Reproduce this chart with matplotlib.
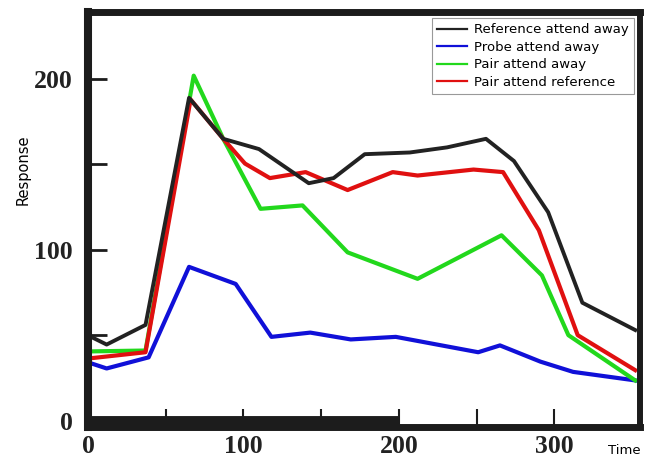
import matplotlib
matplotlib.use("Agg")
import matplotlib.pyplot as plt
from matplotlib.ticker import MultipleLocator, FixedLocator

# response curves, read in (time, response) pairs
ref_away_t = [2, 12, 37, 65, 87, 110, 142, 158, 178, 207, 231, 256, 274, 296, 318, 352]
ref_away_y = [49, 44.5, 56, 189, 165, 159, 139, 142, 156, 157, 160, 165, 152, 122, 69, 53]

probe_away_t = [2, 12, 39, 65, 95, 118, 143, 169, 198, 251, 265, 291, 312, 352]
probe_away_y = [33.5, 30.5, 37, 90, 80, 49, 51.5, 47.5, 49, 40, 44, 34.5, 28.5, 23.5]

pair_away_t = [2, 37, 68, 87, 111, 138, 167, 212, 266, 292, 309, 352]
pair_away_y = [40.5, 41, 202, 165, 124, 126, 98.5, 83, 108.5, 85, 50, 23.5]

pair_ref_t = [2, 37, 66, 87, 101, 117, 140, 167, 196, 212, 248, 267, 290, 315, 352]
pair_ref_y = [36.5, 40, 188, 165, 150.5, 142, 145.5, 135, 145.5, 143.5, 147, 145.5, 111.5, 50, 29.5]

x_minor = [50, 150, 250]
ink = "#1c1c1c"


def main():
    fig = plt.figure(figsize=(6.47, 4.59), dpi=100)
    ax = fig.add_axes([0.136, 0.0708, 0.853, 0.902])

    lb, = ax.plot(probe_away_t, probe_away_y, color="#1010d8", lw=3, zorder=2)
    lg, = ax.plot(pair_away_t, pair_away_y, color="#22d81c", lw=3, zorder=3)
    lr, = ax.plot(pair_ref_t, pair_ref_y, color="#e01010", lw=3, zorder=4)
    lk, = ax.plot(ref_away_t, ref_away_y, color="#222222", lw=2.8, zorder=5)

    ax.set_xlim(0, 355)
    ax.set_ylim(-3.5, 239)

    # heavy frame
    for side, w in (("left", 5.8), ("top", 5.0), ("right", 4.3), ("bottom", 5.0)):
        ax.spines[side].set_linewidth(w)
        ax.spines[side].set_color(ink)
        ax.spines[side].set_zorder(10)
    # thick band along the first part of the time axis
    bar_end = 200
    ax.plot([0, bar_end], [0.0085, 0.0085], transform=ax.get_xaxis_transform(),
            color=ink, lw=10, solid_capstyle="butt", clip_on=False, zorder=9)

    ax.xaxis.set_major_locator(MultipleLocator(100))
    ax.xaxis.set_minor_locator(FixedLocator(x_minor))
    ax.yaxis.set_major_locator(MultipleLocator(100))
    ax.yaxis.set_minor_locator(MultipleLocator(50))
    ax.tick_params(axis="x", which="both", direction="in", length=13, width=1.5,
                   color=ink, pad=6, top=False)
    ax.tick_params(axis="y", which="both", direction="in", length=14, width=2,
                   color=ink, pad=11, right=False)
    for lab in ax.get_xticklabels() + ax.get_yticklabels():
        lab.set_fontfamily("Liberation Serif")
        lab.set_fontweight("bold")
        lab.set_fontsize(18.5)
        lab.set_color("#222222")

    ax.set_ylabel("Response", fontsize=10.5, family="DejaVu Sans")
    ax.yaxis.set_label_coords(-0.118, 0.62)
    ax.yaxis.label.set_va("center")
    ax.set_xlabel("Time", fontsize=9.5, family="DejaVu Sans")
    ax.xaxis.set_label_coords(0.971, -0.059)
    ax.xaxis.label.set_va("center")

    leg = ax.legend([lk, lb, lg, lr],
                    ["Reference attend away", "Probe attend away",
                     "Pair attend away", "Pair attend reference"],
                    loc="upper right", bbox_to_anchor=(0.989, 0.987),
                    borderaxespad=0, fancybox=False, framealpha=1,
                    edgecolor="#999999", handlelength=2.3, handletextpad=0.5,
                    labelspacing=0.35, borderpad=0.4,
                    prop={"family": "DejaVu Sans", "size": 9.5})
    leg.get_frame().set_linewidth(0.8)
    for h in leg.get_lines():
        h.set_linewidth(1.6)
    leg.set_zorder(11)

    fig.savefig("out.png", dpi=100)


if __name__ == '__main__':
    main()
